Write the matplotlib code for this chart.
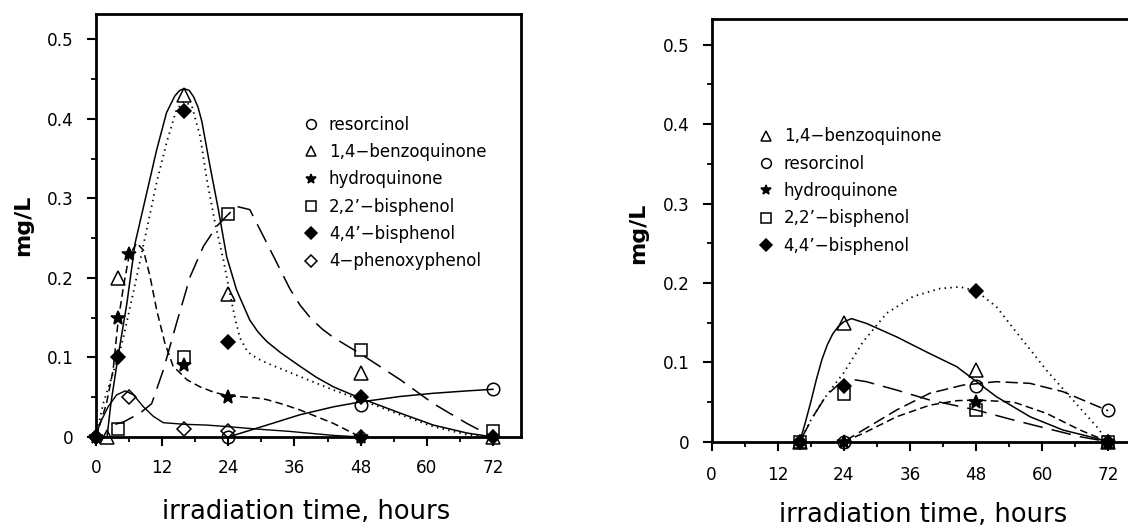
import matplotlib

matplotlib.use("Agg")
import matplotlib.pyplot as plt
from matplotlib.ticker import FuncFormatter, MultipleLocator

plt.rcParams["font.family"] = ["DejaVu Sans"]

# ---------------- left panel: measured points ----------------
left_res_t = [24, 48, 72]
left_res = [0.0, 0.04, 0.06]
left_bq_t = [2, 4, 16, 24, 48, 72]
left_bq = [0.0, 0.20, 0.43, 0.18, 0.08, 0.0]
left_hq_t = [0, 4, 6, 16, 24, 48]
left_hq = [0.0, 0.15, 0.23, 0.09, 0.05, 0.0]
left_bp22_t = [4, 16, 24, 48, 72]
left_bp22 = [0.01, 0.10, 0.28, 0.11, 0.007]
left_bp44_t = [0, 4, 16, 24, 48, 72]
left_bp44 = [0.0, 0.10, 0.41, 0.12, 0.05, 0.0]
left_ppp_t = [0, 6, 16, 24, 48]
left_ppp = [0.0, 0.05, 0.01, 0.007, 0.0]

# ---------------- left panel: fitted curves ----------------
left_res_fit_t = [24, 31, 37, 43.1, 47.9, 55.2, 61.2, 67.3, 72]
left_res_fit = [0.0, 0.015, 0.028, 0.038, 0.044, 0.051, 0.055, 0.058, 0.06]
left_bq_fit_t = [2.0, 2.7, 4.0, 5.6, 7.1, 9.2, 11.0, 12.8, 14.3, 15.2, 16.0, 16.9,
                 17.7, 18.5, 19.2, 20.7, 22.2, 23.7, 25.5, 27.9, 29.4, 31.0, 33.5,
                 37.0, 40.0, 43.1, 47.9, 55.2, 61.2, 67.3, 72.0]
left_bq_fit = [0.0, 0.042, 0.101, 0.168, 0.244, 0.307, 0.361, 0.408, 0.429, 0.436,
               0.438, 0.436, 0.428, 0.415, 0.397, 0.34, 0.286, 0.227, 0.185, 0.147,
               0.132, 0.12, 0.106, 0.089, 0.075, 0.063, 0.049, 0.030, 0.015, 0.005,
               0.0]
left_hq_fit_t = [0, 1.9, 3.1, 4.0, 5.0, 6.0, 7.4, 8.6, 9.8, 11.0, 12.5, 14.0, 16.5,
                 18.9, 21.5, 24.0, 29.2, 31.0, 34.0, 37.0, 43.1, 48.0]
left_hq_fit = [0.0, 0.042, 0.084, 0.145, 0.19, 0.228, 0.244, 0.235, 0.202, 0.16,
               0.118, 0.089, 0.072, 0.063, 0.056, 0.052, 0.049, 0.047, 0.041, 0.034,
               0.017, 0.0]
left_bp22_fit_t = [3.5, 5.0, 8.0, 10.1, 12.2, 14.6, 17.1, 19.5, 21.9, 24.0, 25.5,
                   27.9, 30.4, 32.8, 35.2, 37.0, 39.0, 41.0, 43.1, 45.5, 47.9, 55.2,
                   61.2, 67.3, 72.0]
left_bp22_fit = [0.016, 0.019, 0.030, 0.042, 0.084, 0.143, 0.202, 0.24, 0.265, 0.28,
                 0.29, 0.286, 0.252, 0.219, 0.186, 0.166, 0.149, 0.136, 0.125, 0.115,
                 0.105, 0.072, 0.042, 0.017, 0.0]
left_bp44_fit_t = [0, 1.3, 4.0, 5.0, 7.4, 9.2, 11.0, 12.8, 14.6, 16.0, 17.4, 18.9,
                   20.1, 21.6, 23.1, 24.3, 25.2, 26.1, 27.5, 29.2, 31.0, 37.0, 43.1,
                   47.9, 55.2, 61.2, 67.3, 72.0]
left_bp44_fit = [0.0, 0.042, 0.10, 0.126, 0.202, 0.261, 0.32, 0.37, 0.412, 0.422,
                 0.416, 0.378, 0.324, 0.269, 0.223, 0.18, 0.15, 0.125, 0.107, 0.099,
                 0.093, 0.076, 0.059, 0.047, 0.028, 0.013, 0.003, 0.0]
left_ppp_fit_t = [0, 0.7, 2.2, 3.75, 5.3, 6.8, 8.6, 10.4, 12.2, 16.0, 20.1, 24.0,
                  29.2, 35.2, 43.1, 48.0]
left_ppp_fit = [0.0, 0.017, 0.038, 0.053, 0.058, 0.053, 0.038, 0.026, 0.018, 0.016,
                0.015, 0.013, 0.010, 0.007, 0.002, 0.0]

# ---------------- right panel: measured points ----------------
right_bq_t = [16, 24, 48, 72]
right_bq = [0.0, 0.15, 0.09, 0.0]
right_res_t = [24, 48, 72]
right_res = [0.0, 0.07, 0.04]
right_hq_t = [24, 48, 72]
right_hq = [0.0, 0.05, 0.0]
right_bp22_t = [16, 24, 48, 72]
right_bp22 = [0.0, 0.06, 0.04, 0.0]
right_bp44_t = [16, 24, 48, 72]
right_bp44 = [0.0, 0.07, 0.19, 0.0]

# ---------------- right panel: fitted curves ----------------
right_bq_fit_t = [16, 17, 18, 19, 20, 21, 22, 23, 24.0, 25.4, 28.1, 33.6, 39.6,
                  44.5, 48.1, 51.7, 57.8, 63.8, 69.9, 72]
right_bq_fit = [0.0, 0.024, 0.05, 0.078, 0.103, 0.122, 0.136, 0.145, 0.151, 0.155,
                0.149, 0.132, 0.111, 0.0945, 0.0756, 0.0567, 0.0315, 0.0147, 0.0042,
                0.0]
right_res_fit_t = [24, 27.5, 33.6, 39.6, 45.7, 51.7, 57.8, 63.8, 72]
right_res_fit = [0.0, 0.0147, 0.040, 0.061, 0.0714, 0.0756, 0.0735, 0.063, 0.039]
right_hq_fit_t = [24, 27.5, 33.6, 39.6, 44.5, 48, 54.8, 60.8, 66.9, 72]
right_hq_fit = [0.0, 0.0105, 0.0315, 0.046, 0.0517, 0.0525, 0.050, 0.0357, 0.0147, 0.0]
right_bp22_fit_t = [16, 18.4, 20.9, 23.3, 25.4, 28.1, 33.6, 39.6, 48, 54.8, 60.8,
                    66.9, 72]
right_bp22_fit = [0.0, 0.0315, 0.059, 0.0735, 0.0786, 0.0756, 0.065, 0.0525, 0.04,
                  0.0273, 0.0168, 0.0063, 0.0]
right_bp44_fit_t = [16, 18, 20, 22, 24, 27.5, 31.8, 36.6, 41.5, 45.1, 48, 51.7, 56,
                    60.8, 65.6, 69.9, 72]
right_bp44_fit = [0.0, 0.027, 0.05, 0.069, 0.087, 0.126, 0.162, 0.183, 0.193, 0.195,
                  0.19, 0.17, 0.132, 0.09, 0.0525, 0.019, 0.0]

LABELS = {
    "res": "resorcinol",
    "bq": "1,4\u2212benzoquinone",
    "hq": "hydroquinone",
    "bp22": "2,2\u2019\u2212bisphenol",
    "bp44": "4,4\u2019\u2212bisphenol",
    "ppp": "4\u2212phenoxyphenol",
}

MARKERS = {
    "res": dict(marker="o", ms=9, mfc="none"),
    "bq": dict(marker="^", ms=9.5, mfc="none"),
    "hq": dict(marker="*", ms=10, mfc="black"),
    "bp22": dict(marker="s", ms=9, mfc="none"),
    "bp44": dict(marker="D", ms=7.3, mfc="black"),
    "ppp": dict(marker="D", ms=7.3, mfc="none"),
}

LINE_W = 1.1
SOLID = "-"
DOTTED = (0, (0.8, 2.4))
SHORT_DASH = (0, (5, 2.8))
MED_DASH = (0, (8, 3.5))
LONG_DASH = (0, (13, 6))


def points(ax, key, t, y):
    line, = ax.plot(t, y, ls="none", mec="black", mew=1.1, color="black",
                    clip_on=False, zorder=5, label=LABELS[key], **MARKERS[key])
    return line


def curve(ax, t, y, style, lw=LINE_W):
    ax.plot(t, y, color="black", lw=lw, ls=style, clip_on=False, zorder=3)


def style_axes(ax, xmax, label_pad, xlabel_xy, ylabel_xy):
    ax.set_xlim(0, xmax)
    ax.set_ylim(0, 0.532)
    ax.xaxis.set_major_locator(MultipleLocator(12))
    ax.xaxis.set_minor_locator(MultipleLocator(6))
    ax.yaxis.set_major_locator(MultipleLocator(0.1))
    ax.yaxis.set_minor_locator(MultipleLocator(0.05))
    ax.xaxis.set_major_formatter(FuncFormatter(lambda v, _: f"{v:g}"))
    ax.yaxis.set_major_formatter(FuncFormatter(lambda v, _: f"{v:g}"))
    ax.tick_params(which="major", direction="out", length=6.5, width=1.5,
                   labelsize=12.2)
    ax.tick_params(axis="x", which="major", pad=label_pad[0])
    ax.tick_params(axis="y", which="major", pad=label_pad[1])
    ax.tick_params(which="minor", direction="out", length=3.6, width=1.3)
    for side in ("left", "right", "top", "bottom"):
        ax.spines[side].set_linewidth(2.0)
    ax.set_xlabel("irradiation time, hours", fontsize=18.5)
    ax.xaxis.set_label_coords(*xlabel_xy)
    ax.set_ylabel("mg/L", fontsize=16, fontweight="bold")
    ax.yaxis.set_label_coords(*ylabel_xy)


fig = plt.figure(figsize=(11.28, 5.29), dpi=100)

# ---------------- left panel ----------------
ax1 = fig.add_axes([0.0851, 0.1739, 0.3768, 0.7996])
curve(ax1, left_res_fit_t, left_res_fit, SOLID)
curve(ax1, left_bq_fit_t, left_bq_fit, SOLID)
curve(ax1, left_hq_fit_t, left_hq_fit, SHORT_DASH)
curve(ax1, left_bp22_fit_t, left_bp22_fit, LONG_DASH)
curve(ax1, left_bp44_fit_t, left_bp44_fit, DOTTED, lw=1.3)
curve(ax1, left_ppp_fit_t, left_ppp_fit, SOLID, lw=1.0)

h_left = [
    points(ax1, "res", left_res_t, left_res),
    points(ax1, "bq", left_bq_t, left_bq),
    points(ax1, "hq", left_hq_t, left_hq),
    points(ax1, "bp22", left_bp22_t, left_bp22),
    points(ax1, "bp44", left_bp44_t, left_bp44),
    points(ax1, "ppp", left_ppp_t, left_ppp),
]
style_axes(ax1, 77.1, (9.4, 9.4), (0.495, -0.1473), (-0.1475, 0.5))
ax1.legend(handles=h_left, loc="upper left", bbox_to_anchor=(0.487, 0.7596),
           frameon=False, borderpad=0, borderaxespad=0, handlelength=1.0,
           handletextpad=0.55, labelspacing=0.56, fontsize=12, markerscale=0.78,
           numpoints=1)

# ---------------- right panel ----------------
ax2 = fig.add_axes([0.6309, 0.165, 0.3691, 0.7985])
curve(ax2, right_bq_fit_t, right_bq_fit, SOLID)
curve(ax2, right_res_fit_t, right_res_fit, MED_DASH)
curve(ax2, right_hq_fit_t, right_hq_fit, SHORT_DASH)
curve(ax2, right_bp22_fit_t, right_bp22_fit, LONG_DASH)
curve(ax2, right_bp44_fit_t, right_bp44_fit, DOTTED, lw=1.3)

h_right = [
    points(ax2, "bq", right_bq_t, right_bq),
    points(ax2, "res", right_res_t, right_res),
    points(ax2, "hq", right_hq_t, right_hq),
    points(ax2, "bp22", right_bp22_t, right_bp22),
    points(ax2, "bp44", right_bp44_t, right_bp44),
]
style_axes(ax2, 75.6, (10.8, 9.2), (0.508, -0.1428), (-0.153, 0.494))
ax2.spines["right"].set_visible(False)
ax2.legend(handles=h_right, loc="upper left", bbox_to_anchor=(0.111, 0.744),
           frameon=False, borderpad=0, borderaxespad=0, handlelength=1.0,
           handletextpad=0.55, labelspacing=0.56, fontsize=12, markerscale=0.78,
           numpoints=1)

fig.savefig("out.png", dpi=100)
plt.close(fig)
